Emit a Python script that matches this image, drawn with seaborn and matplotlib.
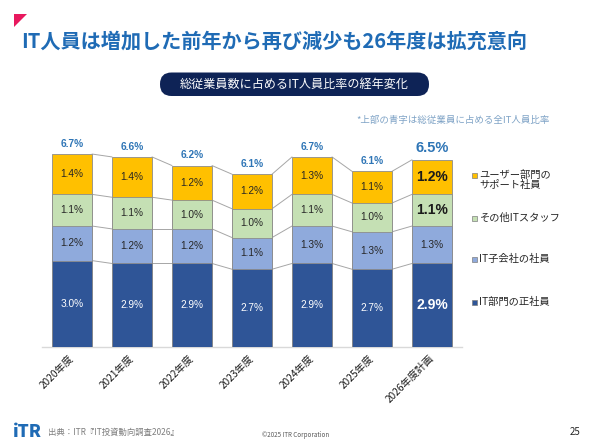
import numpy as np
import pandas as pd
import matplotlib
matplotlib.use("Agg")
import matplotlib.pyplot as plt
from matplotlib.patches import FancyBboxPatch, Polygon, Rectangle
from matplotlib.transforms import IdentityTransform
import seaborn as sns

# ---------------- data ----------------
years = ["2020年度", "2021年度", "2022年度", "2023年度", "2024年度", "2025年度", "2026年度計画"]
it_dept = [3.0, 2.9, 2.9, 2.7, 2.9, 2.7, 2.9]        # IT部門の正社員
it_sub = [1.2, 1.2, 1.2, 1.1, 1.3, 1.3, 1.3]         # IT子会社の社員
it_other = [1.1, 1.1, 1.0, 1.0, 1.1, 1.0, 1.1]       # その他ITスタッフ
user_support = [1.4, 1.4, 1.2, 1.2, 1.3, 1.1, 1.2]   # ユーザー部門のサポート社員
totals = [6.7, 6.6, 6.2, 6.1, 6.7, 6.1, 6.5]
series_names = ["IT部門の正社員", "IT子会社の社員", "その他ITスタッフ", "ユーザー部門の\nサポート社員"]

colors = ["#2F5597", "#8FAADC", "#C5E0B4", "#FFC000"]
label_colors = ["white", "#262626", "#262626", "#262626"]

sns.set_style("white")
FONT = ["Noto Sans CJK JP", "DejaVu Sans"]
plt.rcParams["font.family"] = FONT
NUMFONT = ["Liberation Sans", "DejaVu Sans"]

W, H = 590, 442
fig = plt.figure(figsize=(W / 100, H / 100), dpi=100)
fig.patch.set_facecolor("white")

ax = fig.add_axes([42 / W, 95 / H, 420 / W, 216 / H])

layers = [it_dept, it_sub, it_other, user_support]
cum = np.cumsum(np.array(layers), axis=0)  # shape (4, 7)

bar_w = 40 / 60
# draw from top (largest cumulative) to bottom so lower layers overlay
for k in range(3, -1, -1):
    df = pd.DataFrame({"year": years, "val": cum[k]})
    sns.barplot(data=df, x="year", y="val", color=colors[k], saturation=1,
                width=bar_w, edgecolor="#8C8C8C", linewidth=0.6, ax=ax, zorder=3)

n = len(years)
# connector lines
for k in range(4):
    for i in range(n - 1):
        ax.plot([i + bar_w / 2, i + 1 - bar_w / 2], [cum[k][i], cum[k][i + 1]],
                color="#A6A6A6", lw=0.7, zorder=2)

# segment labels
for k in range(4):
    for i in range(n):
        base = cum[k][i] - layers[k][i]
        yc = base + layers[k][i] / 2
        last = (i == n - 1)
        bold = last and k != 1
        ax.text(i, yc, f"{layers[k][i]:.1f}%", ha="center", va="center", family=NUMFONT,
                fontsize=10 if bold else 7.3, fontweight="bold" if bold else "normal",
                color=label_colors[k] if not (bold and k != 0) else "#1a1a1a", zorder=5)

# total labels
for i in range(n):
    last = (i == n - 1)
    ax.text(i, cum[3][i] + (0.42 if last else 0.35), f"{totals[i]:.1f}%", ha="center", va="center",
            family=NUMFONT, fontsize=10.5 if last else 7.3, fontweight="bold",
            color="#2E75B6", zorder=5)

ax.set_xlim(-0.5, n - 0.5)
ax.set_ylim(0, 7.5)
ax.set_ylabel("")
ax.set_xlabel("")
ax.set_yticks([])
for s in ["left", "top", "right"]:
    ax.spines[s].set_visible(False)
ax.spines["bottom"].set_color("#D9D9D9")
ax.spines["bottom"].set_linewidth(1.0)
ax.set_xticks(range(n))
ax.set_xticklabels(years)
ax.set_xticks(np.arange(-0.5, n, 1), minor=True)
ax.tick_params(axis="x", which="major", length=0, pad=7, labelsize=7.3, labelcolor="#1a1a1a")
ax.tick_params(axis="x", which="minor", length=3, color="#D9D9D9", width=0.8, direction="out")
for t in ax.get_xticklabels():
    t.set_rotation(45)
    t.set_ha("right")
    t.set_va("center")
    t.set_rotation_mode("anchor")

# legend (manual entries, top to bottom)
leg_y = [175.3, 218.3, 259.3, 302.7]
for j, k in enumerate(range(3, -1, -1)):
    yc = leg_y[j]
    fig.add_artist(Rectangle((472.3, H - yc - 2.5), 5, 5, facecolor=colors[k],
                             edgecolor="#7F7F7F", linewidth=0.5, transform=IdentityTransform()))
    fig.text(479.5 / W, 1 - (yc - 5.5) / H, series_names[k], fontsize=7.4, color="#262626",
             ha="left", va="top", linespacing=1.0)

# title & decorations
fig.add_artist(Polygon([(14, H - 14), (27, H - 14), (14, H - 27)], closed=True,
                       facecolor="#E8185E", edgecolor="none", transform=IdentityTransform()))
fig.text(21 / W, 1 - 41 / H, "IT人員は増加した前年から再び減少も26年度は拡充意向",
         fontsize=14.5, fontweight="bold", color="#1F6BB5", ha="left", va="center")

fig.add_artist(FancyBboxPatch((160, H - 96), 269, 23.5,
                              boxstyle="round,pad=0,rounding_size=11.5",
                              facecolor="#0E2356", edgecolor="none", transform=IdentityTransform()))
fig.text(294.5 / W, 1 - 84.5 / H, "総従業員数に占めるIT人員比率の経年変化",
         fontsize=8.7, color="white", ha="center", va="center")

fig.text(550 / W, 1 - 120 / H, "*上部の青字は総従業員に占める全IT人員比率",
         fontsize=6.8, color="#7FA3C6", ha="right", va="center")

# footer
fig.text(13 / W, 1 - 432 / H, "iTR", fontsize=12.5, fontweight="heavy", color="#1F6BB5",
         ha="left", va="center")
fig.text(48 / W, 1 - 432 / H, "出典：ITR『IT投資動向調査2026』", fontsize=6,
         color="#7F7F7F", ha="left", va="center")
fig.text(296 / W, 1 - 435 / H, "©2025 ITR Corporation", fontsize=4.5,
         color="#595959", ha="center", va="center")
fig.text(580 / W, 1 - 432 / H, "25", fontsize=7, color="#262626", ha="right", va="center")

fig.savefig("out.png", dpi=100, facecolor="white")
